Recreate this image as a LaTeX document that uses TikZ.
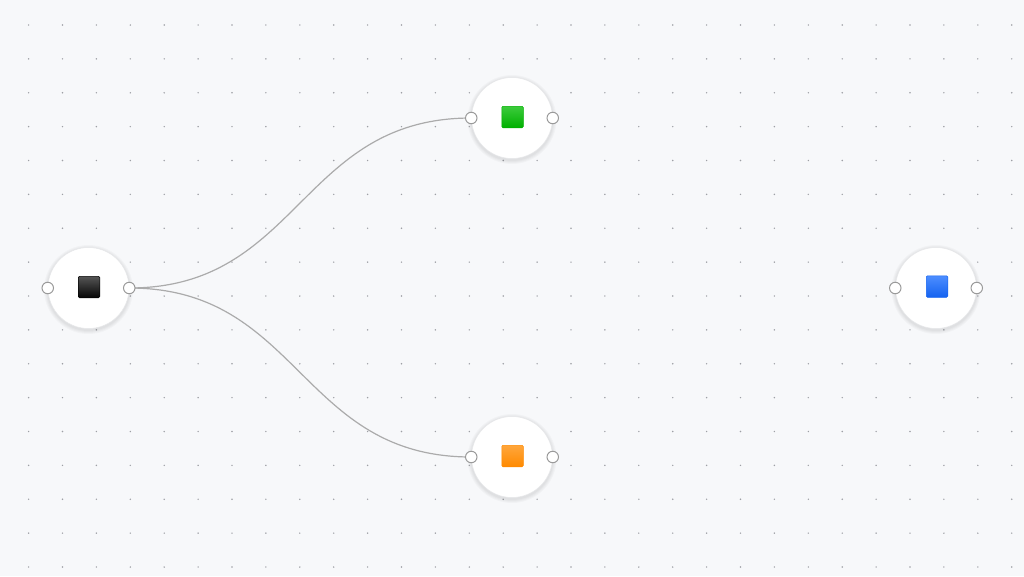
\documentclass[tikz,border=0pt]{standalone}
\definecolor{bgc}{HTML}{F7F8FA}
\definecolor{dotc}{HTML}{9EA0A5}
\definecolor{edgec}{HTML}{ABABAB}
\definecolor{nodeline}{HTML}{E6E7E9}
\definecolor{portc}{HTML}{9A9A9A}
\definecolor{sqblack}{HTML}{050505}
\definecolor{sqblacktop}{HTML}{555555}
\definecolor{sqgreen}{HTML}{00B000}
\definecolor{sqgreentop}{HTML}{3CCB3C}
\definecolor{sqorange}{HTML}{FF8A00}
\definecolor{sqorangetop}{HTML}{FFA63C}
\definecolor{sqblue}{HTML}{1463F0}
\definecolor{sqbluetop}{HTML}{4D8DFF}
\tikzset{
  flownode/.style={circle, minimum size=81pt, inner sep=0pt, fill=white, draw=nodeline, line width=0.5pt},
  port/.style={circle, minimum size=11.5pt, inner sep=0pt, fill=white, draw=portc, line width=1pt},
  sq/.style={rectangle, rounded corners=1.2pt, minimum size=21.5pt, inner sep=0pt, draw=#1, line width=0.5pt,
    top color=#1top, bottom color=#1},
  flowedge/.style={draw=edgec, line width=1.2pt},
  griddot/.style={fill=dotc},
  nshadow/.style={fill=black, fill opacity=0.025}
}
\newcommand{\nodeshadow}[1]{%
  \foreach \r in {41.5,42.5,43.5,44.5}{\fill[nshadow] ([yshift=-1.5pt]#1) circle (\r pt);}%
}
\begin{document}
\begin{tikzpicture}[x=1pt,y=-1pt]
\useasboundingbox (0,0) rectangle (1024,576);
\fill[bgc] (0,0) rectangle (1024,576);
\foreach \i in {0,...,29}{
  \foreach \j in {0,...,16}{
    \fill[griddot] (28.6+33.9*\i, 25+33.875*\j) circle (0.8pt);
  }
}
% node positions
\coordinate (c1) at (88.5,288);
\coordinate (c2) at (512,118);
\coordinate (c3) at (512,457);
\coordinate (c4) at (936,288);
\nodeshadow{c1}\nodeshadow{c2}\nodeshadow{c3}\nodeshadow{c4}
% nodes
\node[flownode] (n1) at (c1) {};
\node[flownode] (n2) at (c2) {};
\node[flownode] (n3) at (c3) {};
\node[flownode] (n4) at (c4) {};
% squares
\node[sq=sqblack] (s1) at (89,287) {};
\node[sq=sqgreen] (s2) at (512.5,117) {};
\node[sq=sqorange] (s3) at (512.5,456) {};
\node[sq=sqblue] (s4) at (937,286.5) {};
% edges
\draw[flowedge] (n1.east) .. controls (300,288) and (300,118) .. (n2.west);
\draw[flowedge] (n1.east) .. controls (300,288) and (300,457) .. (n3.west);
% ports
\node[port] (p1l) at (n1.west) {};
\node[port] (p1r) at (n1.east) {};
\node[port] (p2l) at (n2.west) {};
\node[port] (p2r) at (n2.east) {};
\node[port] (p3l) at (n3.west) {};
\node[port] (p3r) at (n3.east) {};
\node[port] (p4l) at (n4.west) {};
\node[port] (p4r) at (n4.east) {};
\end{tikzpicture}
\end{document}
